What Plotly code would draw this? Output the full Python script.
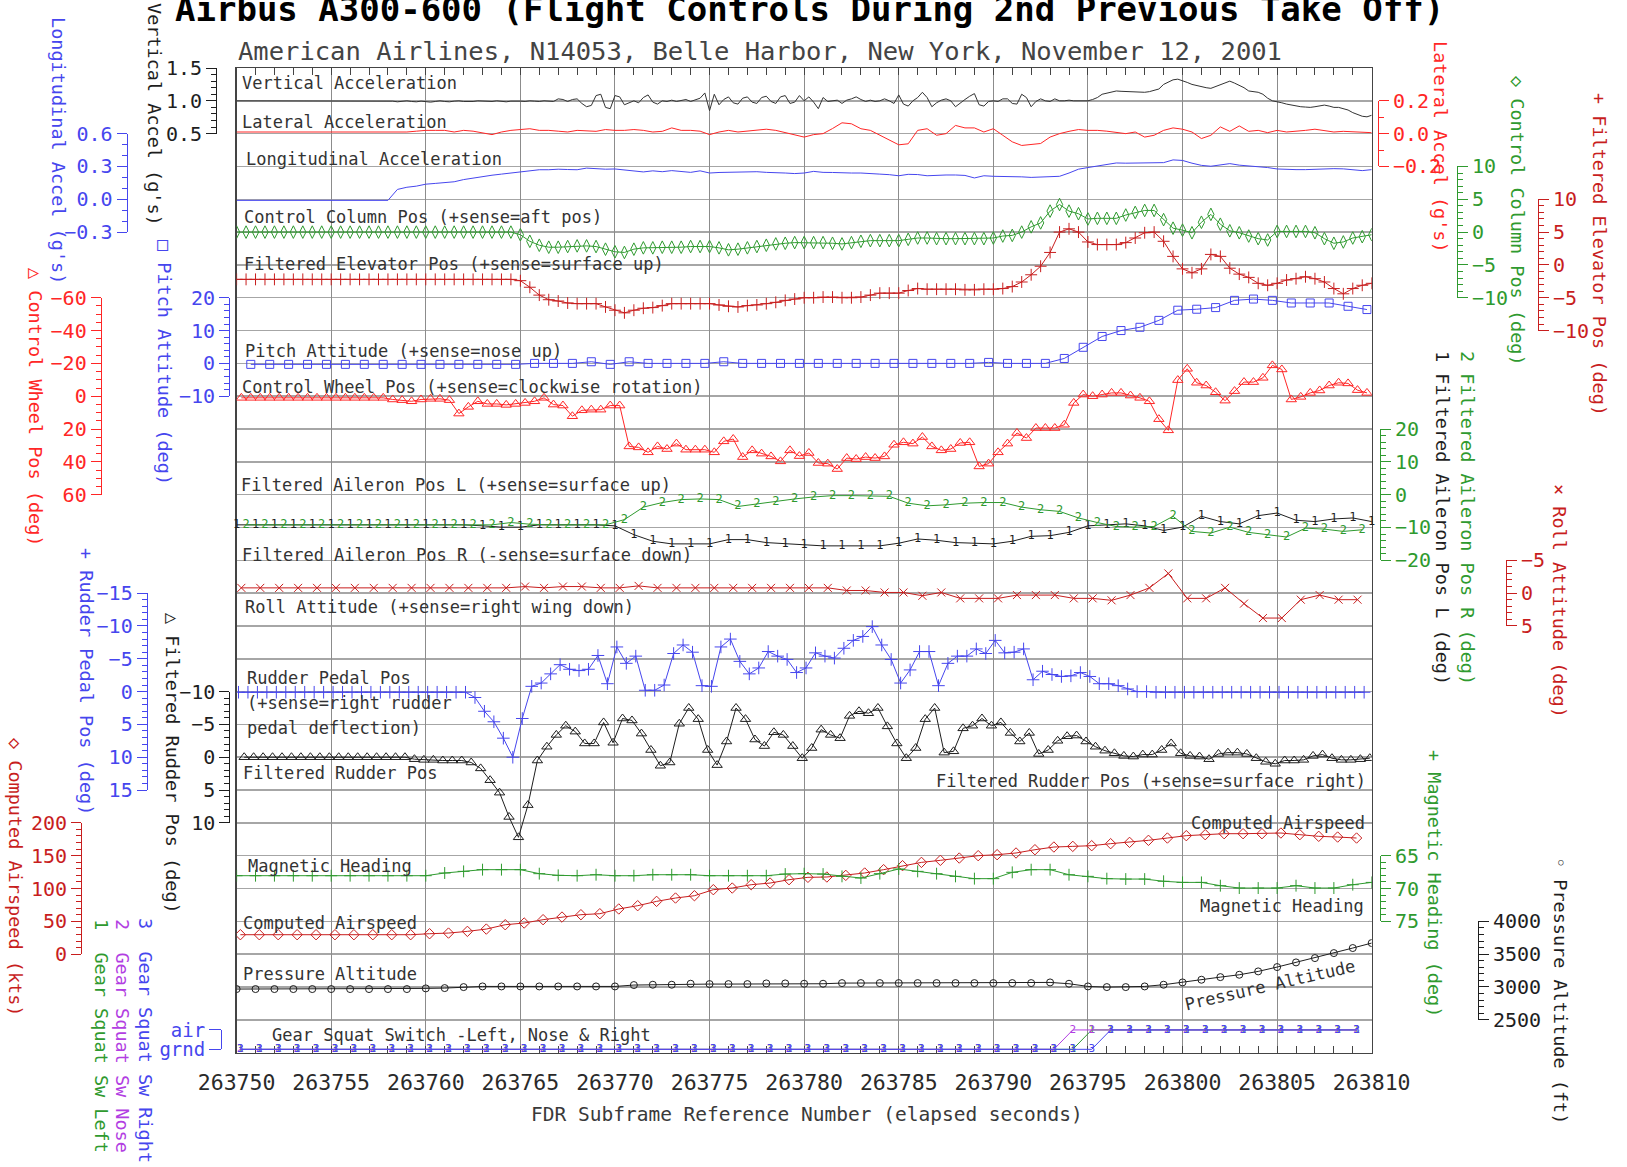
import plotly.graph_objects as go

W, H = 1627, 1167
PLOT_L, PLOT_R = 236.6, 1371.7
PLOT_T, DIV, NDIV = 68.0, 32.82, 30
MONO = "DejaVu Sans Mono"

BLACK = "#1e1e1e"
RED = "#ff2626"
DRED = "#c81e1e"
BLUE = "#4646ee"
GREEN = "#2f9a2f"
PURPLE = "#b23ee2"

# ---------------- x axis ----------------
X_START, X_END = 263750, 263810
X_TICKS = [263750, 263755, 263760, 263765, 263770, 263775, 263780,
           263785, 263790, 263795, 263800, 263805, 263810]

# ---------------- tick labels of the y scales ----------------
VERT_TICKS = [0.5, 1.0, 1.5]
LAT_TICKS = [-0.2, 0.0, 0.2]
LON_TICKS = [-0.3, 0.0, 0.3, 0.6]
COL_TICKS = [-10, -5, 0, 5, 10]
ELEV_TICKS = [-10, -5, 0, 5, 10]
PITCH_TICKS = [-10, 0, 10, 20]
WHEEL_TICKS = [-60, -40, -20, 0, 20, 40, 60]
AIL_TICKS = [-20, -10, 0, 10, 20]
ROLL_TICKS = [-5, 0, 5]
PEDAL_TICKS = [-15, -10, -5, 0, 5, 10, 15]
FRUD_TICKS = [-10, -5, 0, 5, 10]
SPD_TICKS = [0, 50, 100, 150, 200]
HDG_TICKS = [65, 70, 75]
ALT_TICKS = [2500, 3000, 3500, 4000]
GEAR_TICKS = [0, 1]
GEAR_LABELS = ["grnd", "air"]

# ---------------- series (time start, sample step, values) ----------------
VERT_T0, VERT_DT = 263750.0, 0.25
VERT_ACC = ([1.0] * 33 + [
    0.995, 0.985, 0.99, 1.0, 0.99, 0.985, 0.995, 0.99, 0.98, 0.99, 1.0,
    0.99, 0.985, 0.995, 1.0, 0.99, 0.985, 0.99, 1.0, 0.995, 0.985, 0.99,
    1.0, 0.99, 0.985, 0.995, 1.0, 0.995, 0.99, 1.0, 0.995, 0.99, 1.0,
    1.0, 0.99, 1.03, 1.02, 0.99, 1.02, 1.03, 0.96, 0.91, 0.93,
    1.08, 1.1, 0.9, 0.88, 1.08, 1.06, 0.94, 0.97, 1.0, 0.97,
    1.05, 1.09, 0.98, 0.95, 1.0, 0.99, 1.01, 0.99, 1.0, 1.02,
    0.99, 1.02, 1.04, 1.12, 0.85, 1.1, 0.94, 1.02, 1.06, 0.97,
    0.95, 1.04, 1.06, 0.98, 0.96, 1.05, 1.07, 0.99, 0.96, 1.06,
    1.08, 0.96, 0.98, 1.08, 1.0,
    1.06, 0.98, 0.88,
    1.05, 0.99, 1.0, 1.01, 0.96, 1.01, 1.03, 1.06,
    1.02, 0.99, 1.01, 0.99, 1.0, 1.03, 1.0, 0.96,
    1.09, 0.95, 0.92, 1.0, 1.05, 1.13, 1.05, 0.91,
    0.97, 1.01, 1.03, 1.0, 0.91, 0.97, 1.02, 1.07,
    1.11, 0.94, 0.92, 0.99, 1.0, 0.99, 1.03, 1.03,
    0.96, 0.95, 1.1, 1.05, 0.91, 0.99, 1.03, 1.0,
    0.99, 1.03, 1.0, 1.0, 1.01, 1.0, 1.0, 1.0,
    1.0, 1.02, 1.05, 1.1, 1.12, 1.14, 1.15, 1.145,
    1.14, 1.14, 1.135, 1.13, 1.13, 1.14, 1.16, 1.18,
    1.25, 1.29, 1.32, 1.33, 1.31, 1.28, 1.25, 1.23,
    1.22, 1.2, 1.19, 1.22, 1.25, 1.28, 1.3, 1.27,
    1.24, 1.2, 1.15, 1.14, 1.13, 1.1, 1.04, 1.0,
    0.99, 0.97, 0.95, 0.935, 0.92, 0.91, 0.905, 0.9,
    0.91, 0.92, 0.935, 0.92, 0.9, 0.9, 0.88, 0.86,
    0.82, 0.79, 0.765, 0.756, 0.78])

LAT_T0, LAT_DT = 263750.0, 0.5
LAT_ACC = [0.01] * 17 + [
    0.01, 0.01, 0.015, 0.02, 0.02, 0.02, 0.01, 0.02, 0.015, 0.006, -0.006,
    0.01, 0.02, 0.025, 0.03, 0.02, 0.02, 0.015, 0.01, 0.02, 0.015, 0.014,
    0.025, 0.02, 0.02, 0.025, 0.02, 0.01, 0.014, 0.035, 0.02, 0.02, 0.015,
    -0.006, 0.01, 0.02, 0.01, 0.015, 0.02, 0.027, 0.02, 0.006, -0.01,
    -0.021, -0.006, 0.0, 0.031, 0.066, 0.06, 0.03, 0.02, -0.01, -0.035,
    -0.068, -0.062, 0.02, 0.03, -0.01, 0.0, 0.05, 0.035, 0.035, 0.01,
    0.03, -0.01, -0.05, -0.072, -0.068, -0.06, -0.021, 0.0, 0.014, 0.025,
    0.02, 0.02, 0.015, 0.006, 0.0, 0.01, -0.021, -0.01, 0.02, 0.035,
    0.027, 0.01, -0.03, -0.01, 0.041, 0.014, 0.047, 0.014, 0.02, 0.006,
    0.02, 0.01, 0.014, 0.02, 0.027, 0.02, 0.01, 0.014, 0.01, 0.01, 0.006]

LON_T0, LON_DT = 263750.0, 0.5
LON_ACC = [-0.01] * 17 + [
    0.09, 0.11, 0.12, 0.138, 0.145, 0.15, 0.16, 0.18, 0.195, 0.21, 0.22,
    0.23, 0.24, 0.25, 0.26, 0.27, 0.27, 0.275, 0.272, 0.27, 0.285, 0.28,
    0.275, 0.277, 0.27, 0.26, 0.25, 0.26, 0.252, 0.262, 0.255, 0.246, 0.26,
    0.24, 0.245, 0.246, 0.246, 0.25, 0.252, 0.246, 0.245, 0.24, 0.235,
    0.24, 0.255, 0.246, 0.245, 0.24, 0.24, 0.24, 0.238, 0.23, 0.225,
    0.215, 0.228, 0.226, 0.215, 0.22, 0.222, 0.222, 0.218, 0.195, 0.215,
    0.21, 0.209, 0.209, 0.205, 0.2, 0.203, 0.206, 0.21, 0.24, 0.275,
    0.29, 0.305, 0.323, 0.332, 0.33, 0.33, 0.332, 0.33, 0.335, 0.36,
    0.355, 0.33, 0.31, 0.302, 0.314, 0.326, 0.312, 0.305, 0.302, 0.29,
    0.277, 0.272, 0.271, 0.271, 0.275, 0.277, 0.28, 0.278, 0.27, 0.262, 0.271]

COL_T0, COL_DT = 263750.0, 0.5
CTRL_COL = [0.0] * 30 + [
    -0.4, -1.4, -2.0, -2.3, -2.3, -2.2, -2.1, -2.1, -2.2, -2.6,
    -3.0, -3.1, -2.6, -2.4, -2.4, -2.3, -2.3, -2.3, -2.2, -2.2,
    -2.2, -2.4, -2.7, -2.6, -2.4, -2.2, -2.0, -1.8, -1.7, -1.6,
    -1.6, -1.6, -1.6, -1.7, -1.8, -1.6, -1.4, -1.3, -1.3, -1.3,
    -1.3, -1.1, -0.9, -0.9, -1.0, -1.0, -1.0, -1.0, -1.0, -1.0,
    -0.9, -0.6, -0.5, 0.0, 0.8, 1.4, 3.2, 4.2, 3.2, 2.8,
    2.0, 2.1, 2.1, 2.1, 2.6, 3.0, 3.3, 3.3, 1.9, 0.6,
    0.3, -0.1, 1.5, 2.7, 1.2, 0.2, -0.1, -0.6, -1.0, -1.2,
    0.1, 0.1, 0.1, 0.1, -0.1, -1.0, -1.7, -1.5, -0.9, -0.7,
    -0.4]

ELEV_T0, ELEV_DT = 263750.0, 0.5
ELEV = [-2.2] * 30 + [
    -2.4, -3.4, -4.6, -5.3, -5.5, -5.8, -5.9, -5.9, -5.9, -6.4,
    -6.9, -7.3, -6.9, -6.6, -6.5, -6.2, -5.9, -5.9, -5.9, -5.9,
    -5.9, -6.1, -6.3, -6.4, -6.2, -6.1, -5.9, -5.7, -5.4, -5.2,
    -5.0, -5.0, -4.9, -4.9, -5.0, -5.0, -4.9, -4.6, -4.3, -4.3,
    -4.3, -3.9, -3.6, -3.7, -3.7, -3.7, -3.7, -3.8, -3.8, -3.7,
    -3.7, -3.6, -3.3, -2.6, -1.5, -0.2, 1.9, 5.0, 5.5, 5.0,
    3.5, 3.1, 3.1, 3.1, 3.4, 4.1, 4.9, 5.0, 3.6, 1.3,
    -0.6, -1.2, -0.6, 1.6, 1.3, -0.5, -1.4, -1.9, -2.8, -3.1,
    -2.8, -2.3, -2.1, -1.8, -2.1, -2.6, -3.6, -4.4, -3.6, -3.1,
    -2.8]

PITCH_T0, PITCH_DT = 263750.75, 1.0
PITCH = [-0.3] * 15 + [
    0.0, 0.0, 0.0, 0.5, -0.3, 0.5, 0.0, 0.0, 0.0, 0.0, 0.5, 0.0, 0.0, 0.0, 0.0,
    0.0, 0.0, 0.0, 0.0, 0.0, 0.0, 0.0, 0.0, 0.0, 0.3, 0.0, 0.0, 0.0,
    1.5, 4.9, 8.2, 10.0, 11.0, 13.1, 16.2, 16.5, 17.0, 19.2, 19.6, 19.2,
    18.4, 18.4, 18.4, 17.4, 16.4]

WHEEL_T0, WHEEL_DT = 263750.25, 0.5
WHEEL = [1.0] * 16 + [
    2.0, 2.4, 3.1, 2.0, 1.6, 1.6, 2.4, 10.6, 6.5, 3.1, 4.7, 4.7,
    5.3, 4.7, 4.1, 3.1, 1.0, 5.1, 5.7, 12.2, 8.6, 8.2, 8.2, 5.7,
    5.7, 30.6, 31.2, 34.2, 30.6, 32.2, 28.9, 32.6, 32.6, 32.6,
    34.2, 27.5, 26.1, 37.1, 33.0, 35.0, 36.7, 39.7, 33.0, 36.5,
    34.6, 40.7, 41.1, 44.4, 37.7, 38.3, 37.1, 37.7, 36.7, 29.6,
    28.1, 28.9, 24.9, 30.6, 33.0, 32.2, 28.5, 28.1, 42.8, 41.1,
    34.2, 28.9, 22.4, 25.5, 19.4, 19.4, 19.4, 17.4, 4.1, -1.0,
    0.0, -1.0, -2.0, -2.0, -0.4, 1.0, 3.1, 14.0, 20.8, -9.8,
    -16.7, -8.2, -6.5, -2.4, 2.7, -3.1, -8.6, -8.6, -11.2, -18.8,
    -16.3, 2.0, 0.4, -2.0, -3.5, -6.5, -8.2, -7.8, -3.7, -2.0]

AIL_L_T0, AIL_L_DT = 263750.0, 1.0
AIL_L = [-9.2] * 13 + [
    -9.5, -9.9, -9.9, -9.2, -9.2, -9.2, -9.2, -9.5, -12.2, -14.2,
    -15.0, -15.0, -15.0, -13.7, -13.7, -14.6, -15.0, -15.3, -15.6, -15.6,
    -15.6, -15.6, -14.8, -13.5, -13.9, -14.6, -14.8, -15.0, -14.2, -12.7,
    -12.5, -11.5, -9.5, -9.2, -8.9, -9.5, -10.9, -9.9, -6.6, -8.2,
    -8.9, -6.4, -5.6, -7.8, -8.2, -7.4, -7.1, -8.2]

AIL_R_T0, AIL_R_DT = 263750.5, 1.0
AIL_R = [-9.2] * 14 + [
    -8.5, -9.0, -9.2, -9.2, -9.2, -9.2, -7.6, -3.8, -2.4, -1.5,
    -1.3, -1.5, -3.6, -2.8, -2.1, -1.3, -0.7, -0.3, -0.3, -0.3,
    -0.5, -2.6, -3.4, -3.1, -2.6, -2.4, -2.4, -3.8, -4.6, -5.1,
    -7.1, -8.5, -9.7, -9.9, -9.7, -6.6, -11.2, -11.7, -9.9, -11.5,
    -12.2, -12.9, -10.2, -10.5, -11.2, -10.7]

ROLL_T0, ROLL_DT = 263750.25, 1.0
ROLL = [-0.8] * 15 + [
    -1.0, -0.8, -1.0, -1.0, -0.8, -0.8, -1.1, -0.8, -0.8, -0.8,
    -0.8, -0.8, -0.8, -0.8, -0.8, -0.8, -0.8, -0.4, -0.4, -0.1,
    -0.1, 0.4, -0.1, 0.8, 0.8, 0.8, 0.3, 0.3, 0.3, 0.8,
    0.8, 1.1, 0.3, -0.8, -3.0, 0.8, 0.8, -0.8, 1.6, 3.8,
    3.8, 1.0, 0.3, 1.0, 1.0]

PEDAL_T0, PEDAL_DT = 263750.1, 0.5
PEDAL = [0.1] * 24 + [
    0.1, 0.9, 3.0, 4.6, 7.1, 10.0, 4.1, -0.8, -1.3, -2.7,
    -4.1, -3.4, -3.2, -3.4, -5.5, -1.2, -6.8, -4.3, -5.4, -0.2,
    -0.2, -1.0, -5.8, -7.1, -6.0, -0.9, -0.8, -6.8, -8.0, -4.6,
    -2.7, -3.6, -6.1, -5.4, -4.9, -2.9, -3.6, -5.9, -5.4, -5.1,
    -6.6, -7.8, -8.4, -9.9, -7.1, -4.9, -1.3, -3.3, -6.1, -6.1,
    -0.9, -4.3, -5.4, -5.4, -6.5, -5.8, -7.8, -5.9, -6.0, -6.5,
    -1.8, -3.1, -2.6, -2.3, -2.4, -2.9, -2.3, -1.2, -1.2, -0.9,
    -0.4, 0.0, 0.0] + [0.1] * 23

FRUD_T0, FRUD_DT = 263750.4, 0.5
FRUD = [0.0] * 18 + [
    0.3, 0.4, 0.4, 0.5, 0.5, 0.5, 0.8, 1.7, 3.5, 5.4,
    9.1, 12.2, 7.3, 0.5, -1.6, -3.4, -4.8, -3.9, -2.1, -2.1,
    -5.3, -2.2, -5.9, -5.6, -3.6, -1.1, 1.3, 0.8, -5.1, -7.5,
    -5.8, -1.1, 1.2, -2.4, -7.5, -5.8, -2.7, -1.7, -3.8, -3.4,
    -1.7, 0.15, -1.4, -4.2, -3.4, -2.9, -6.3, -7.0, -6.7, -7.5,
    -4.7, -2.1, 0.15, -1.4, -5.8, -7.5, -0.7, -0.9, -4.4, -4.8,
    -5.9, -4.8, -5.3, -3.7, -2.4, -3.7, -0.5, -1.1, -2.5, -3.2,
    -3.3, -2.4, -1.6, -1.0, -0.6, -0.2, -0.1, -0.4, -0.4, -1.1,
    -2.1, -0.6, -0.2, -0.1, 0.3, -0.5, -0.7, -0.7, -0.5, 0.15,
    0.7, 1.0, 0.5, 0.5, 0.4, -0.2, -0.4, 0.15, 0.4, 0.4, 0.3, 0.15]

SPD_T0, SPD_DT = 263750.2, 1.0
AIRSPEED = [29.6] * 10 + [
    31.1, 32.1, 34.7, 38.2, 44.8, 47.4, 52.5, 56.5, 60.1, 61.6,
    68.8, 73.8, 80.4, 85.5, 89.0, 98.2, 100.7, 105.8, 108.3, 113.4,
    117.0, 117.5, 120.0, 123.6, 128.7, 134.8, 139.8, 142.9, 146.4, 150.0,
    151.5, 154.1, 159.1, 163.2, 164.2, 165.2, 168.3, 170.3, 173.4, 176.9,
    180.5, 182.0, 183.5, 183.5, 183.5, 184.5, 182.0, 179.5, 178.4, 176.9]

HDG_T0, HDG_DT = 263750.0, 1.0
HEADING = [68.05] * 11 + [
    67.64, 67.39, 67.13, 67.13, 67.13, 67.74, 68.0, 68.05, 67.9, 68.05,
    68.05, 67.9, 67.9, 67.9, 68.05, 68.05, 68.05, 68.05, 67.8, 67.74,
    67.8, 68.15, 68.4, 67.74, 67.03, 67.39, 67.74, 68.15, 68.5, 68.5,
    67.54, 67.13, 67.13, 67.9, 68.15, 68.5, 68.56, 68.56, 68.9, 69.07,
    69.07, 69.57, 69.93, 69.93, 69.93, 69.57, 69.93, 69.93, 69.42, 69.07]

ALT_T0, ALT_DT = 263750.0, 1.0
PRESS_ALT = [2968] * 10 + [2978, 2983, 2998] + [3008] * 8 + [
    3029, 3034, 3034, 3049, 3044, 3044, 3044, 3054, 3054, 3049, 3049] + [3059] * 11 + [
    3069, 3049, 3008, 2998, 2998, 3008, 3034, 3069, 3110, 3150,
    3186, 3237, 3303, 3374, 3440, 3516, 3593, 3669]

GEAR_T0, GEAR_DT = 263750.2, 1.0
GEAR_LEFT = [0] * 45 + [1] * 15
GEAR_NOSE = [0] * 44 + [1] * 16
GEAR_RIGHT = [0] * 46 + [1] * 14


# ---------------- helpers ----------------
def fx(px):
    return px / W


def fy(d):
    return 1 - (PLOT_T + DIV * d) / H


def fyp(py):
    return 1 - py / H


def times(t0, dt, n):
    return [round(t0 + dt * i, 4) for i in range(n)]


def lab(v, nd):
    return f"{v:.{nd}f}".replace("-", "\u2212")


# scale: key, division of top tick, top value, division of bottom tick, bottom value,
# tick values, tick texts, minor step, x of axis line (px), side, colour, tick length, font size
SCALES = [
    ("vert", 0, 1.5, 2, 0.5, VERT_TICKS, [lab(v, 1) for v in VERT_TICKS], 0.1, 216, "left", BLACK, 10, 20),
    ("lon", 2, 0.6, 5, -0.3, LON_TICKS, [lab(v, 1) for v in LON_TICKS], 0.1, 126.5, "left", BLUE, 10, 20),
    ("wheel", 7, -60, 13, 60, WHEEL_TICKS, [lab(v, 0) for v in WHEEL_TICKS], 5, 100.7, "left", RED, 10, 20),
    ("pitch", 7, 20, 10, -10, PITCH_TICKS, [lab(v, 0) for v in PITCH_TICKS], 2, 229, "left", BLUE, 10, 20),
    ("pedal", 16, -15, 22, 15, PEDAL_TICKS, [lab(v, 0) for v in PEDAL_TICKS], 1, 146.7, "left", BLUE, 10, 20),
    ("frud", 19, -10, 23, 10, FRUD_TICKS, [lab(v, 0) for v in FRUD_TICKS], 1, 229.3, "left", BLACK, 10, 20),
    ("spd", 23, 200, 27, 0, SPD_TICKS, [lab(v, 0) for v in SPD_TICKS], 10, 81, "left", DRED, 10, 20),
    ("gear", 29.31, 1, 29.9, 0, GEAR_TICKS, GEAR_LABELS, None, 221, "left", BLUE, 12, 19),
    ("lat", 1, 0.2, 3, -0.2, LAT_TICKS, [lab(v, 1) for v in LAT_TICKS], 0.1, 1378, "right", RED, 10, 20),
    ("col", 3, 10, 7, -10, COL_TICKS, [lab(v, 0) for v in COL_TICKS], 1, 1457, "right", GREEN, 10, 20),
    ("elev", 4, 10, 8, -10, ELEV_TICKS, [lab(v, 0) for v in ELEV_TICKS], 1, 1538, "right", DRED, 10, 20),
    ("ail", 11, 20, 15, -20, AIL_TICKS, [lab(v, 0) for v in AIL_TICKS], 2, 1380, "right", GREEN, 10, 20),
    ("roll", 15, -5, 17, 5, ROLL_TICKS, [lab(v, 0) for v in ROLL_TICKS], 1, 1506, "right", DRED, 10, 20),
    ("hdg", 24, 65, 26, 75, HDG_TICKS, [lab(v, 0) for v in HDG_TICKS], 1, 1380, "right", GREEN, 10, 20),
    ("alt", 26, 4000, 29, 2500, ALT_TICKS, [lab(v, 0) for v in ALT_TICKS], 100, 1478, "right", BLACK, 10, 20),
]

fig = go.Figure()
layout = {}
axis_no = [1]
data_axis = {}


def next_axis():
    axis_no[0] += 1
    return axis_no[0]


for key, dt_, vt, db, vb, tv, tt, mstep, xp, side, color, tlen, fsz in SCALES:
    span = vt - vb
    eps = span * 1e-6
    n = next_axis()
    ax = dict(domain=[fy(db), fy(dt_)], range=[vb - eps, vt + eps], anchor="free",
              position=fx(xp), side=side, showline=True, linecolor=color, linewidth=1,
              ticks="outside", ticklen=tlen, tickwidth=1, tickcolor=color,
              tickmode="array", tickvals=tv, ticktext=tt,
              tickfont=dict(family=MONO, size=fsz, color=color),
              showgrid=False, zeroline=False, automargin=False, fixedrange=True)
    if mstep:
        cnt = int(round(abs(span) / mstep))
        sgn = 1 if span > 0 else -1
        mv = [round(vb + sgn * mstep * i, 6) for i in range(cnt + 1)]
        ax["minor"] = dict(tickmode="array", tickvals=mv, ticks="outside", ticklen=5,
                           tickwidth=1, tickcolor=color, showgrid=False)
    layout[f"yaxis{n}"] = ax
    fig.add_trace(go.Scatter(x=[], y=[], xaxis="x", yaxis=f"y{n}", hoverinfo="skip"))

    m = next_axis()
    slope = (vb - vt) / (db - dt_)
    layout[f"yaxis{m}"] = dict(domain=[fy(NDIV), fy(0)],
                               range=[vt + (NDIV - dt_) * slope, vt + (0 - dt_) * slope],
                               anchor="x", visible=False, showgrid=False, zeroline=False,
                               automargin=False, fixedrange=True)
    data_axis[key] = f"y{m}"


def add_series(vals, t0, dt, key, color, symbol=None, msize=9, char=None, csize=13, mlw=1):
    t = times(t0, dt, len(vals))
    common = dict(x=t, y=vals, xaxis="x", yaxis=data_axis[key], hoverinfo="skip",
                  line=dict(color=color, width=1))
    if char:
        fig.add_trace(go.Scatter(mode="lines+text", text=[char] * len(vals),
                                 textposition="middle center", cliponaxis=False,
                                 textfont=dict(family=MONO, size=csize, color=color), **common))
    elif symbol:
        fig.add_trace(go.Scatter(mode="lines+markers",
                                 marker=dict(symbol=symbol, size=msize, color=color,
                                             line=dict(color=color, width=mlw)), **common))
    else:
        fig.add_trace(go.Scatter(mode="lines", **common))


# base grid subplot
fig.add_trace(go.Scatter(x=[], y=[], xaxis="x", yaxis="y", hoverinfo="skip"))
fig.add_trace(go.Scatter(x=[], y=[], xaxis="x2", yaxis="y", hoverinfo="skip"))

add_series(VERT_ACC, VERT_T0, VERT_DT, "vert", "#333333")
add_series(LAT_ACC, LAT_T0, LAT_DT, "lat", RED)
add_series(LON_ACC, LON_T0, LON_DT, "lon", BLUE)
add_series(CTRL_COL, COL_T0, COL_DT, "col", GREEN, "diamond-tall-open", 9)
add_series(ELEV, ELEV_T0, ELEV_DT, "elev", DRED, "cross-thin", 8.5, mlw=1)
add_series(PITCH, PITCH_T0, PITCH_DT, "pitch", BLUE, "square-open", 8)
add_series(WHEEL, WHEEL_T0, WHEEL_DT, "wheel", RED, "triangle-up-open", 9)
add_series(AIL_L, AIL_L_T0, AIL_L_DT, "ail", BLACK, char="1", csize=12)
add_series(AIL_R, AIL_R_T0, AIL_R_DT, "ail", GREEN, char="2", csize=12)
add_series(ROLL, ROLL_T0, ROLL_DT, "roll", DRED, "x-thin", 8, mlw=1)
add_series(PEDAL, PEDAL_T0, PEDAL_DT, "pedal", BLUE, "cross-thin", 9, mlw=1)
add_series(FRUD, FRUD_T0, FRUD_DT, "frud", BLACK, "triangle-up-open", 9)
add_series(AIRSPEED, SPD_T0, SPD_DT, "spd", DRED, "diamond-open", 8)
add_series(HEADING, HDG_T0, HDG_DT, "hdg", GREEN, "cross-thin", 8.5, mlw=1)
add_series(PRESS_ALT, ALT_T0, ALT_DT, "alt", BLACK, "circle-open", 7)
add_series(GEAR_LEFT, GEAR_T0, GEAR_DT, "gear", GREEN, char="1", csize=11)
add_series(GEAR_NOSE, GEAR_T0, GEAR_DT, "gear", PURPLE, char="2", csize=11)
add_series(GEAR_RIGHT, GEAR_T0, GEAR_DT, "gear", BLUE, char="3", csize=11)

layout["xaxis"] = dict(domain=[fx(PLOT_L), fx(PLOT_R)], range=[X_START, X_END], anchor="y",
                       tickmode="array", tickvals=X_TICKS, ticktext=[str(v) for v in X_TICKS],
                       ticks="inside", ticklen=7, tickwidth=1, tickcolor="#444",
                       showline=True, linecolor="#444", linewidth=1.5, mirror="ticks",
                       showgrid=False, zeroline=False, automargin=False, fixedrange=True,
                       tickfont=dict(family=MONO, size=21.5, color="#2a2a2a"),
                       ticklabelstandoff=10,
                       minor=dict(tickmode="array", tickvals=list(range(X_START, X_END + 1)),
                                  ticks="inside", ticklen=7, tickwidth=1, tickcolor="#444",
                                  showgrid=False))
layout["xaxis2"] = dict(overlaying="x", anchor="y", range=[X_START, X_END],
                        tickmode="array", tickvals=X_TICKS, showticklabels=False, ticks="",
                        showgrid=True, gridcolor="#8c8c8c", gridwidth=1,
                        showline=False, zeroline=False, automargin=False, fixedrange=True)
layout["yaxis"] = dict(domain=[fy(NDIV), fy(0)], range=[NDIV, 0], anchor="x",
                       tickmode="linear", tick0=0, dtick=1, showticklabels=False, ticks="",
                       showgrid=True, gridcolor="#a6a6a6", gridwidth=1.5,
                       showline=True, mirror=True, linecolor="#444", linewidth=1.5,
                       zeroline=False, automargin=False, fixedrange=True)

anns = []


def ann(text, x, y, size=17, color="#333333", xanchor="left", angle=0, bold=False):
    anns.append(dict(text=f"<b>{text}</b>" if bold else text, x=fx(x), y=fyp(y),
                     xref="paper", yref="paper", showarrow=False, xanchor=xanchor,
                     yanchor="middle", textangle=angle,
                     font=dict(family=MONO, size=size, color=color)))


ann("Airbus A300-600 (Flight Controls During 2nd Previous Take Off)", 809, 9, 34, "#000", "center", bold=True)
ann("American Airlines, N14053, Belle Harbor, New York, November 12, 2001", 236, 51, 25.5, "#444")
ann("FDR Subframe Reference Number (elapsed seconds)", 807, 1114, 19.5, "#3a3a3a", "center")

for text, x, y in [
    ("Vertical Acceleration", 240, 83),
    ("Lateral Acceleration", 240, 122),
    ("Longitudinal Acceleration", 244, 159),
    ("Control Column Pos (+sense=aft pos)", 242, 217),
    ("Filtered Elevator Pos (+sense=surface up)", 242, 264),
    ("Pitch Attitude (+sense=nose up)", 243, 351),
    ("Control Wheel Pos (+sense=clockwise rotation)", 240, 387),
    ("Filtered Aileron Pos L (+sense=surface up)", 239, 485),
    ("Filtered Aileron Pos R (-sense=surface down)", 240, 555),
    ("Roll Attitude (+sense=right wing down)", 243, 607),
    ("Rudder Pedal Pos", 245, 678),
    ("(+sense=right rudder", 245, 703),
    ("pedal deflection)", 245, 728),
    ("Filtered Rudder Pos", 241, 773),
    ("Magnetic Heading", 246, 866),
    ("Computed Airspeed", 241, 923),
    ("Pressure Altitude", 241, 974),
    ("Gear Squat Switch -Left, Nose & Right", 270, 1035),
]:
    ann(text, x, y)

for text, x, y in [
    ("Filtered Rudder Pos (+sense=surface right)", 1368, 781),
    ("Computed Airspeed", 1367, 823),
    ("Magnetic Heading", 1366, 906),
]:
    ann(text, x, y, xanchor="right")

ann("Pressure Altitude", 1270, 985, 17, "#333333", "center", angle=-13)

for text, x, y, color in [
    ("Vertical Accel (g's)", 154, 114, BLACK),
    ("Longitudinal Accel (g's)", 58, 150, BLUE),
    ("\u25b3 Control Wheel Pos (deg)", 36, 407, RED),
    ("\u25a1 Pitch Attitude (deg)", 165, 362, BLUE),
    ("+ Rudder Pedal Pos (deg)", 87, 681, BLUE),
    ("\u25b3 Filtered Rudder Pos (deg)", 172, 763, BLACK),
    ("\u25c7 Computed Airspeed (kts)", 16, 877, DRED),
    ("1  Gear Squat Sw Left", 102, 1036, GREEN),
    ("2  Gear Squat Sw Nose", 123, 1036, PURPLE),
    ("3  Gear Squat Sw Right", 146, 1040, BLUE),
    ("Lateral Accel (g's)", 1441, 147, RED),
    ("\u25c7 Control Column Pos (deg)", 1518, 221, GREEN),
    ("+ Filtered Elevator Pos (deg)", 1600, 254, DRED),
    ("1 Filtered Aileron Pos L (deg)", 1443, 518, BLACK),
    ("2 Filtered Aileron Pos R (deg)", 1468, 518, GREEN),
    ("\u00d7 Roll Attitude (deg)", 1560, 601, DRED),
    ("+ Magnetic Heading (deg)", 1435, 883, GREEN),
    ("\u25e6 Pressure Altitude (ft)", 1560, 990, BLACK),
]:
    ann(text, x, y, 18.5, color, "center", angle=90)

fig.update_layout(width=W, height=H, autosize=False, template="none",
                  margin=dict(l=0, r=0, t=0, b=0, pad=0),
                  paper_bgcolor="white", plot_bgcolor="rgba(0,0,0,0)",
                  showlegend=False, hovermode=False, annotations=anns, **layout)

fig.write_html("out.html", config={"displayModeBar": False, "staticPlot": True},
               post_script="document.body.style.margin='0';document.body.style.padding='0';"
                           "document.body.style.overflow='hidden';")
